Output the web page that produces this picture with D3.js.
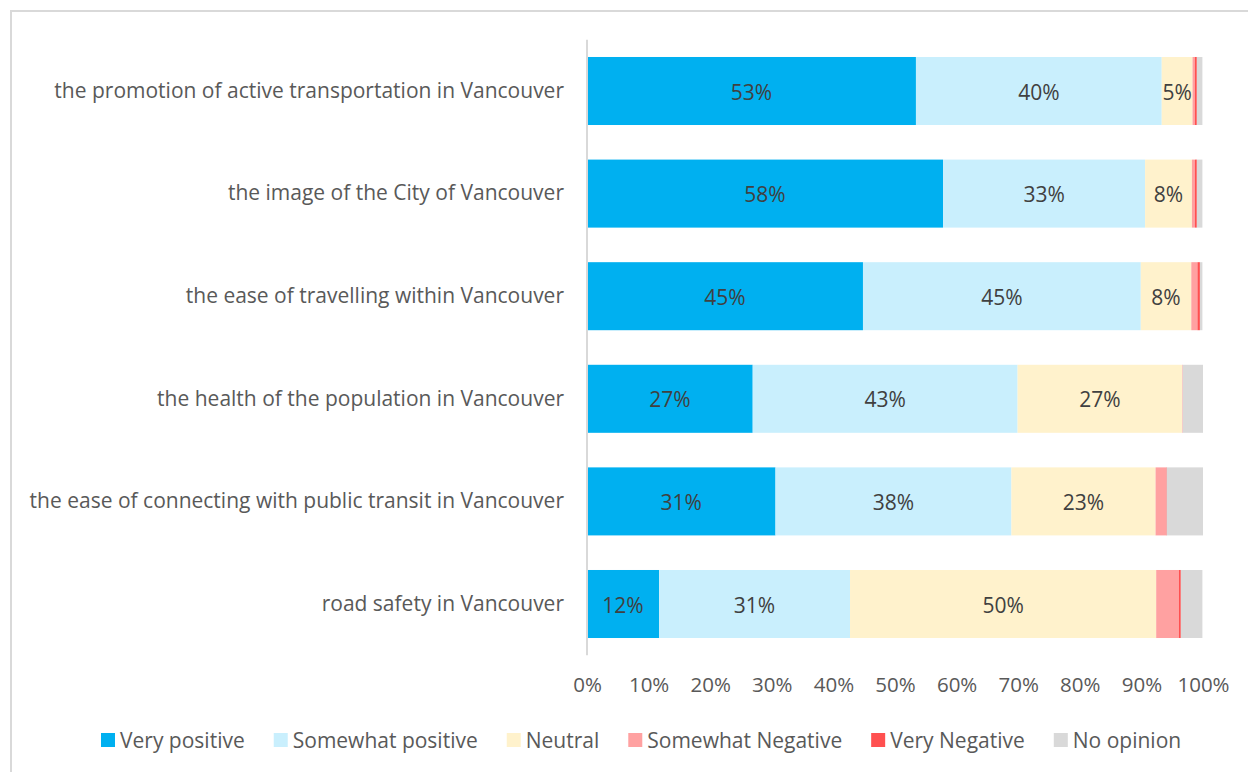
<!DOCTYPE html>
<html>
<head>
<meta charset="utf-8">
<script src="https://cdn.jsdelivr.net/npm/d3@7"></script>
<style>
  html, body { margin: 0; padding: 0; background: #fff; }
  svg { display: block; font-family: "Open Sans", Lato, sans-serif; }
</style>
</head>
<body>
<div id="chart"></div>
<script>
// categories, top to bottom
const categories = [
  'the promotion of active transportation in Vancouver',
  'the image of the City of Vancouver',
  'the ease of travelling within Vancouver',
  'the health of the population in Vancouver',
  'the ease of connecting with public transit in Vancouver',
  'road safety in Vancouver'
];

const seriesNames = ['Very positive', 'Somewhat positive', 'Neutral', 'Somewhat Negative', 'Very Negative', 'No opinion'];
const seriesColors = ['#00b0f0', '#c9effd', '#fff2cc', '#ffa1a1', '#ff5050', '#d9d9d9'];

// percent values per series, same order as categories
const veryPositive     = [53.4, 57.8, 44.8, 26.9, 30.6, 11.7];
const somewhatPositive = [39.9, 32.8, 45.1, 43.0, 38.3, 31.0];
const neutral          = [5.0, 7.6, 8.2, 26.7, 23.4, 49.7];
const somewhatNegative = [0.4, 0.5, 1.0, 0.1, 1.7, 3.7];
const veryNegative     = [0.3, 0.3, 0.4, 0.0, 0.1, 0.3];
const noOpinion        = [0.9, 0.9, 0.4, 3.3, 5.9, 3.5];

const xTicks = [0, 10, 20, 30, 40, 50, 60, 70, 80, 90, 100];

const series = [veryPositive, somewhatPositive, neutral, somewhatNegative, veryNegative, noOpinion];
const labelled = [true, true, true, false, false, false];

const width = 1248, height = 772;
const plotLeft = 587, plotRight = 1203, plotTop = 39.7, plotBottom = 655.3;
const fontSize = 21;

const svg = d3.select('#chart').append('svg')
  .attr('width', width)
  .attr('height', height);

// chart frame (runs past the viewport on the right and bottom)
svg.append('rect')
  .attr('x', 11).attr('y', 11)
  .attr('width', width + 20).attr('height', height + 20)
  .attr('fill', 'none')
  .attr('stroke', '#d9d9d9')
  .attr('stroke-width', 2);

const x = d3.scaleLinear().domain([0, 100]).range([plotLeft, plotRight]);
const y = d3.scaleBand()
  .domain(categories)
  .range([plotTop, plotBottom])
  .paddingInner(0.337)
  .paddingOuter(0.337 / 2);

// stack the rows
const rows = categories.map((c, i) => {
  let acc = 0;
  return series.map((s, k) => {
    const seg = {cat: c, k, x0: acc, x1: acc + s[i], v: s[i]};
    acc += s[i];
    return seg;
  });
});

const bars = svg.append('g');
rows.forEach(row => {
  bars.selectAll(null)
    .data(row.filter(d => d.v > 0))
    .enter()
    .append('rect')
    .attr('x', d => x(d.x0))
    .attr('y', y(row[0].cat))
    .attr('width', d => x(d.x1) - x(d.x0))
    .attr('height', y.bandwidth())
    .attr('fill', d => seriesColors[d.k]);

  bars.selectAll(null)
    .data(row.filter(d => labelled[d.k] && d.v >= 4))
    .enter()
    .append('text')
    .attr('x', d => x((d.x0 + d.x1) / 2))
    .attr('y', y(row[0].cat) + y.bandwidth() / 2 + 1)
    .attr('dy', '0.36em')
    .attr('text-anchor', 'middle')
    .attr('font-size', fontSize)
    .attr('fill', '#404040')
    .text(d => `${Math.round(d.v)}%`);
});

// vertical axis line
svg.append('line')
  .attr('x1', plotLeft).attr('x2', plotLeft)
  .attr('y1', plotTop).attr('y2', plotBottom)
  .attr('stroke', '#d9d9d9')
  .attr('stroke-width', 2);

// category labels
const yAxis = svg.append('g')
  .attr('transform', `translate(${plotLeft},0)`)
  .call(d3.axisLeft(y).tickSize(0).tickPadding(23));
yAxis.select('.domain').remove();
yAxis.selectAll('text')
  .attr('font-size', fontSize)
  .attr('font-family', '"Open Sans", sans-serif')
  .attr('fill', '#595959');

// x axis tick labels
const xAxis = svg.append('g')
  .attr('transform', `translate(0,${plotBottom})`)
  .call(d3.axisBottom(x).tickValues(xTicks).tickSize(0).tickPadding(22).tickFormat(d => `${d}%`));
xAxis.select('.domain').remove();
xAxis.selectAll('text')
  .attr('font-size', 20.5)
  .attr('font-family', '"Open Sans", sans-serif')
  .attr('fill', '#595959');

// legend
const legend = svg.append('g').attr('transform', 'translate(0,740)');
const items = legend.selectAll('g')
  .data(seriesNames)
  .enter()
  .append('g');
items.append('rect')
  .attr('y', -7).attr('width', 14).attr('height', 14)
  .attr('fill', (d, i) => seriesColors[i]);
items.append('text')
  .attr('x', 19)
  .attr('dy', '0.36em')
  .attr('font-size', fontSize)
  .attr('fill', '#595959')
  .text(d => d);

const gap = 29;
const widths = [];
items.each(function () {
  widths.push(this.getBBox().width);
});
let cx = 101;
items.attr('transform', (d, i) => {
  const t = `translate(${cx},0)`;
  cx += widths[i] + gap;
  return t;
});
</script>
</body>
</html>
